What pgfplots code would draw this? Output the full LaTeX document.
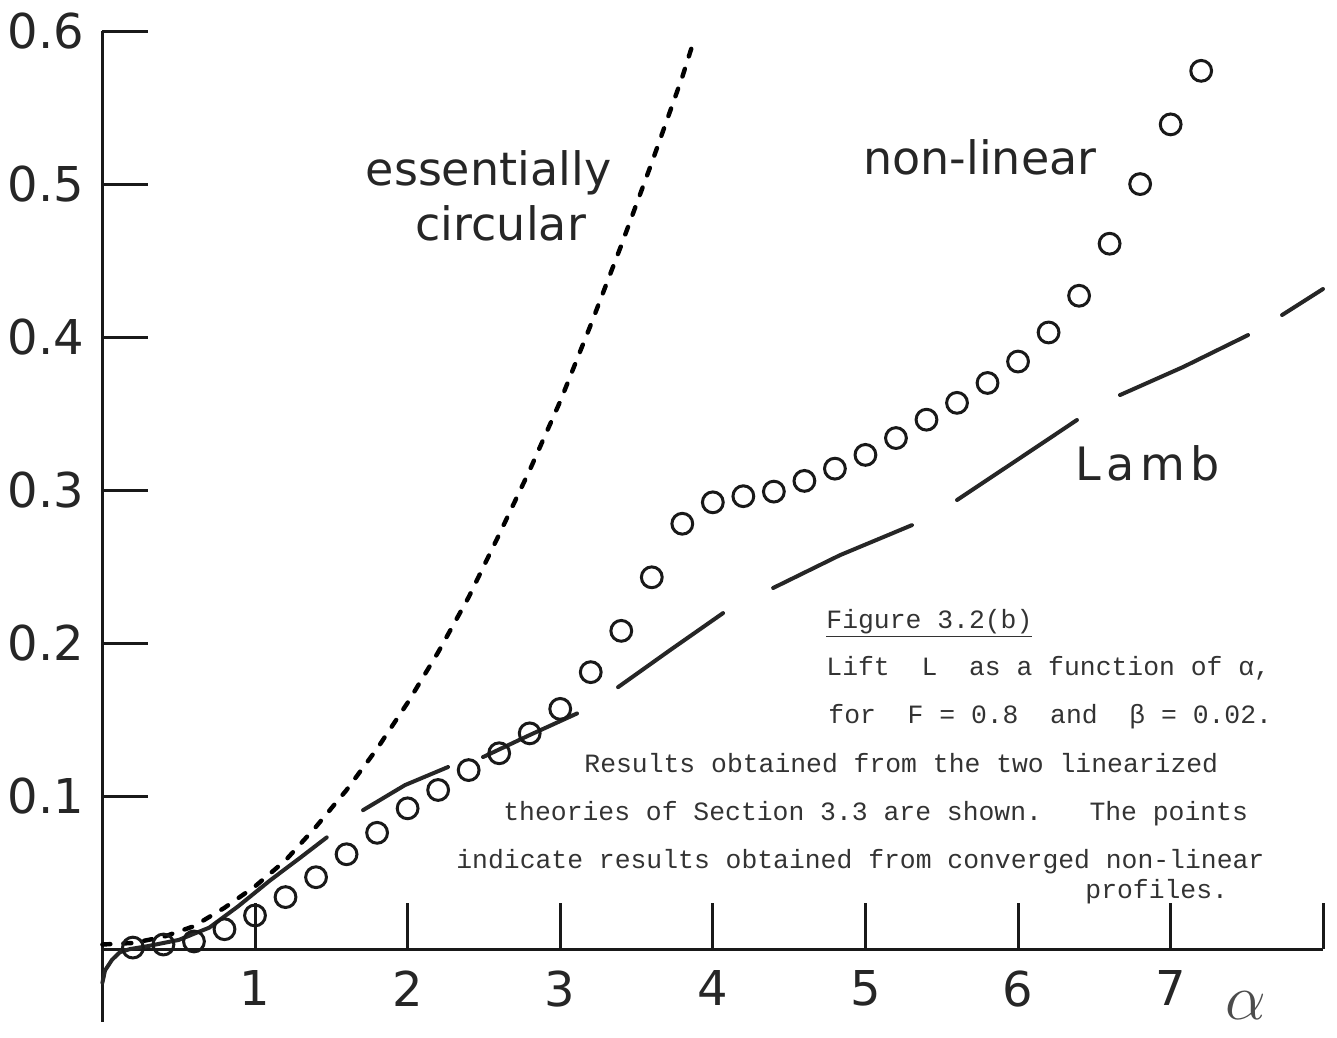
\documentclass[border=0pt]{standalone}
\usepackage{pgfplots}
\pgfplotsset{compat=1.18}
\usepackage{fontspec}
\setmainfont{DejaVu Sans}
\newfontfamily\capfont{Liberation Mono}

% non-linear results (circles)
\pgfplotstableread{
x y
0.2 0.001
0.4 0.003
0.6 0.005
0.8 0.013
1.0 0.022
1.2 0.034
1.4 0.047
1.6 0.062
1.8 0.076
2.0 0.092
2.2 0.104
2.4 0.117
2.6 0.128
2.8 0.141
3.0 0.157
3.2 0.181
3.4 0.208
3.6 0.243
3.8 0.278
4.0 0.292
4.2 0.296
4.4 0.299
4.6 0.306
4.8 0.314
5.0 0.323
5.2 0.334
5.4 0.346
5.6 0.357
5.8 0.370
6.0 0.384
6.2 0.403
6.4 0.427
6.6 0.461
6.8 0.500
7.0 0.539
7.2 0.574
}\nonlinear

% essentially circular linear theory
\pgfplotstableread{
x y
0.0 0.003
0.2 0.004
0.4 0.008
0.6 0.015
0.8 0.027
1.0 0.041
1.2 0.058
1.4 0.080
1.6 0.104
1.8 0.131
2.0 0.161
2.2 0.194
2.4 0.230
2.6 0.271
2.8 0.313
3.0 0.358
3.2 0.408
3.4 0.460
3.6 0.514
3.8 0.570
3.87 0.592
}\circular

% Lamb theory, drawn as hand-ruled pieces
\pgfplotstableread{
x y
0.0 -0.022
0.017 -0.014
0.063 -0.007
0.115 -0.002
0.18 0.000
0.3 0.002
0.5 0.006
0.7 0.014
0.89 0.028
1.1 0.045
1.3 0.060
1.47 0.073
}\lambA
\pgfplotstableread{
x y
1.708 0.0908
1.983 0.1072
2.265 0.119
}\lambB
\pgfplotstableread{
x y
2.494 0.1255
2.80 0.1399
3.11 0.154
}\lambC
\pgfplotstableread{
x y
3.379 0.1712
3.72 0.1954
4.067 0.2196
}\lambD
\pgfplotstableread{
x y
4.395 0.236
4.834 0.2575
5.305 0.2771
}\lambE
\pgfplotstableread{
x y
5.60 0.2935
5.993 0.3196
6.386 0.3458
}\lambF
\pgfplotstableread{
x y
6.668 0.3621
7.081 0.3804
7.507 0.4013
}\lambG
\pgfplotstableread{
x y
7.73 0.4144
7.998 0.4314
}\lambH

\begin{document}
\begin{tikzpicture}
\begin{axis}[
  x=76.3pt, y=765pt,
  xmin=0, xmax=8, ymin=0, ymax=0.6,
  axis lines=left,
  axis line style={-, line width=1.5pt, black!90},
  clip=false,
  xtick={1,2,3,4,5,6,7,8},
  xticklabels={1,2,3,4,5,6,7,{}},
  ytick={0.1,0.2,0.3,0.4,0.5,0.6},
  yticklabels={0.1,0.2,0.3,0.4,0.5,0.6},
  tick align=inside,
  major tick length=23pt,
  tick style={line width=1.5pt, black!90},
  xticklabel style={font=\fontsize{24}{24}\selectfont, text=black!85, anchor=north, inner sep=0pt, yshift=-10.5pt},
  yticklabel style={font=\fontsize{24}{24}\selectfont, text=black!85, anchor=east, inner sep=0pt, xshift=-9pt},
]
  % y axis continues a little below the origin
  \draw[line width=1.5pt, black!90] (axis cs:0,0) -- (axis cs:0,-0.0477);

  \addplot[black, line width=2.2pt, line cap=round, dash pattern=on 4pt off 6.5pt] table {\circular};

  \addplot[black!85, line width=2pt, line cap=round] table {\lambA};
  \addplot[black!85, line width=2pt, line cap=round] table {\lambB};
  \addplot[black!85, line width=2pt, line cap=round] table {\lambC};
  \addplot[black!85, line width=2pt, line cap=round] table {\lambD};
  \addplot[black!85, line width=2pt, line cap=round] table {\lambE};
  \addplot[black!85, line width=2pt, line cap=round] table {\lambF};
  \addplot[black!85, line width=2pt, line cap=round] table {\lambG};
  \addplot[black!85, line width=2pt, line cap=round] table {\lambH};

  \addplot[only marks, mark=o, mark size=5.2pt, mark options={line width=1.5pt, black!90}] table {\nonlinear};

  % curve labels
  \node[anchor=base, inner sep=0pt, text=black!85, font=\fontsize{23}{23}\selectfont] at (axis cs:2.53,0.4993) {essentially};
  \node[anchor=base, inner sep=0pt, text=black!85, font=\fontsize{23}{23}\selectfont] at (axis cs:2.61,0.4634) {circular};
  \node[anchor=base, inner sep=0pt, text=black!85, font=\fontsize{23}{23}\selectfont] at (axis cs:5.75,0.506) {non-linear};
  \node[anchor=base, inner sep=0pt, text=black!85, font=\fontsize{23}{23}\selectfont\addfontfeatures{LetterSpace=12}] at (axis cs:6.85,0.3065) {Lamb};

  % axis label
  \node[inner sep=0pt, text=black!70, scale=1.3] at (axis cs:7.49,-0.037) {\fontsize{24}{24}\selectfont$\alpha$};

  % caption
  \begin{scope}[every node/.style={anchor=base west, inner sep=0pt, text=black!80, font=\capfont\fontsize{13.2}{13.2}\selectfont}]
    \node at (axis cs:4.742,0.2098) {\underline{Figure 3.2(b)}};
    \node at (axis cs:4.742,0.1791) {Lift~~L~~as a function of α,};
    \node at (axis cs:4.755,0.1477) {for~~F = 0.8~~and~~β = 0.02.};
    \node at (axis cs:3.156,0.1157) {Results obtained from the two linearized};
    \node at (axis cs:2.625,0.0843) {theories of Section 3.3 are shown.~~~The points};
    \node at (axis cs:2.317,0.0529) {indicate results obtained from converged non-linear};
    \node at (axis cs:6.439,0.0333) {profiles.};
  \end{scope}

  \coordinate (bbsw) at (axis cs:-0.671,-0.0575);
  \coordinate (bbne) at (axis cs:8.09,0.6203);
\end{axis}
\pgfresetboundingbox
\useasboundingbox (bbsw) rectangle (bbne);
\end{tikzpicture}
\end{document}
